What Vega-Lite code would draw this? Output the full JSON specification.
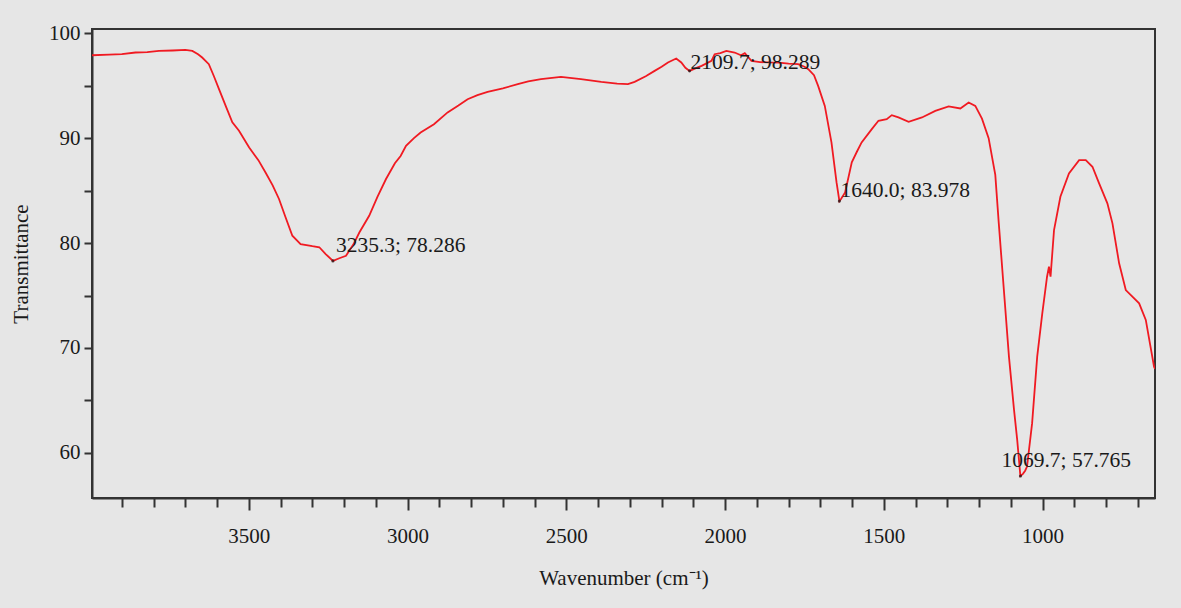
{
  "$schema": "https://vega.github.io/schema/vega-lite/v6.json",
  "autosize": {"type": "none"},
  "padding": {"left": 92, "top": 29, "right": 26, "bottom": 110},
  "width": 1063,
  "height": 469,
  "background": "#e6e6e6",
  "config": {
    "view": {"stroke": "#333333", "strokeWidth": 2, "fill": "#e6e6e6"},
    "font": "Liberation Serif"
  },
  "datasets": {
    "spectrum": [
      {"wn": 3994, "T": 97.9}, {"wn": 3940, "T": 97.95}, {"wn": 3900, "T": 98.0}, {"wn": 3857, "T": 98.16},
      {"wn": 3820, "T": 98.2}, {"wn": 3783, "T": 98.31}, {"wn": 3740, "T": 98.35}, {"wn": 3700, "T": 98.41},
      {"wn": 3678, "T": 98.31}, {"wn": 3660, "T": 98.0}, {"wn": 3647, "T": 97.68}, {"wn": 3626, "T": 97.05},
      {"wn": 3610, "T": 95.9}, {"wn": 3594, "T": 94.67}, {"wn": 3572, "T": 93.0}, {"wn": 3552, "T": 91.5},
      {"wn": 3531, "T": 90.7}, {"wn": 3499, "T": 89.1}, {"wn": 3470, "T": 87.9}, {"wn": 3447, "T": 86.7},
      {"wn": 3425, "T": 85.5}, {"wn": 3405, "T": 84.2}, {"wn": 3385, "T": 82.5}, {"wn": 3363, "T": 80.7},
      {"wn": 3337, "T": 79.9}, {"wn": 3300, "T": 79.7}, {"wn": 3278, "T": 79.6}, {"wn": 3258, "T": 78.95},
      {"wn": 3235, "T": 78.3}, {"wn": 3215, "T": 78.55}, {"wn": 3194, "T": 78.79}, {"wn": 3170, "T": 79.9},
      {"wn": 3152, "T": 81.0}, {"wn": 3121, "T": 82.6}, {"wn": 3095, "T": 84.4}, {"wn": 3068, "T": 86.1},
      {"wn": 3040, "T": 87.6}, {"wn": 3022, "T": 88.3}, {"wn": 3005, "T": 89.27}, {"wn": 2980, "T": 90.0},
      {"wn": 2959, "T": 90.54}, {"wn": 2917, "T": 91.33}, {"wn": 2874, "T": 92.45}, {"wn": 2840, "T": 93.1},
      {"wn": 2811, "T": 93.71}, {"wn": 2780, "T": 94.1}, {"wn": 2748, "T": 94.41}, {"wn": 2700, "T": 94.75},
      {"wn": 2653, "T": 95.14}, {"wn": 2620, "T": 95.4}, {"wn": 2580, "T": 95.62}, {"wn": 2517, "T": 95.84},
      {"wn": 2454, "T": 95.62}, {"wn": 2390, "T": 95.36}, {"wn": 2340, "T": 95.2}, {"wn": 2306, "T": 95.14},
      {"wn": 2285, "T": 95.36}, {"wn": 2250, "T": 95.9}, {"wn": 2222, "T": 96.41}, {"wn": 2200, "T": 96.8},
      {"wn": 2180, "T": 97.21}, {"wn": 2154, "T": 97.59}, {"wn": 2138, "T": 97.21}, {"wn": 2125, "T": 96.7},
      {"wn": 2112, "T": 96.41}, {"wn": 2090, "T": 96.7}, {"wn": 2074, "T": 96.89}, {"wn": 2043, "T": 97.36},
      {"wn": 2033, "T": 98.0}, {"wn": 2015, "T": 98.1}, {"wn": 1996, "T": 98.31}, {"wn": 1970, "T": 98.16},
      {"wn": 1950, "T": 97.9}, {"wn": 1938, "T": 98.1}, {"wn": 1917, "T": 97.36}, {"wn": 1890, "T": 97.25},
      {"wn": 1864, "T": 97.21}, {"wn": 1830, "T": 97.2}, {"wn": 1800, "T": 97.1}, {"wn": 1770, "T": 97.05},
      {"wn": 1750, "T": 96.8}, {"wn": 1738, "T": 96.57}, {"wn": 1720, "T": 96.0}, {"wn": 1707, "T": 94.98},
      {"wn": 1686, "T": 93.07}, {"wn": 1665, "T": 89.59}, {"wn": 1649, "T": 85.78}, {"wn": 1640, "T": 84.0},
      {"wn": 1635, "T": 84.19}, {"wn": 1622, "T": 84.83}, {"wn": 1601, "T": 87.7}, {"wn": 1585, "T": 88.7},
      {"wn": 1570, "T": 89.59}, {"wn": 1538, "T": 90.86}, {"wn": 1517, "T": 91.65}, {"wn": 1491, "T": 91.81},
      {"wn": 1475, "T": 92.19}, {"wn": 1454, "T": 91.97}, {"wn": 1422, "T": 91.55}, {"wn": 1380, "T": 91.97},
      {"wn": 1338, "T": 92.6}, {"wn": 1296, "T": 93.02}, {"wn": 1259, "T": 92.83}, {"wn": 1233, "T": 93.4},
      {"wn": 1212, "T": 93.07}, {"wn": 1191, "T": 91.85}, {"wn": 1170, "T": 90.0}, {"wn": 1149, "T": 86.5},
      {"wn": 1138, "T": 81.88}, {"wn": 1122, "T": 75.52}, {"wn": 1106, "T": 69.17}, {"wn": 1090, "T": 64.1},
      {"wn": 1080, "T": 61.24}, {"wn": 1070, "T": 57.8}, {"wn": 1062, "T": 58.0}, {"wn": 1055, "T": 58.3},
      {"wn": 1049, "T": 58.7}, {"wn": 1033, "T": 62.83}, {"wn": 1017, "T": 69.17}, {"wn": 1001, "T": 73.3},
      {"wn": 986, "T": 76.79}, {"wn": 980, "T": 77.74}, {"wn": 975, "T": 76.79}, {"wn": 964, "T": 81.24},
      {"wn": 944, "T": 84.41}, {"wn": 917, "T": 86.64}, {"wn": 885, "T": 87.9}, {"wn": 864, "T": 87.9},
      {"wn": 843, "T": 87.27}, {"wn": 822, "T": 85.68}, {"wn": 796, "T": 83.78}, {"wn": 780, "T": 81.88},
      {"wn": 759, "T": 78.07}, {"wn": 738, "T": 75.52}, {"wn": 696, "T": 74.25}, {"wn": 675, "T": 72.67},
      {"wn": 649, "T": 68.22}, {"wn": 646, "T": 68.0}
    ],
    "peaks": [
      {"wn": 3235.3, "T": 78.3, "label": "3235.3; 78.286"},
      {"wn": 2112, "T": 96.41, "label": "2109.7; 98.289"},
      {"wn": 1640.0, "T": 84.0, "label": "1640.0; 83.978"},
      {"wn": 1069.7, "T": 57.8, "label": "1069.7; 57.765"}
    ]
  },
  "encoding": {
    "x": {
      "field": "wn", "type": "quantitative",
      "scale": {"domain": [3994, 646], "nice": false, "zero": false},
      "axis": {
        "values": [3900, 3800, 3700, 3600, 3500, 3400, 3300, 3200, 3100, 3000, 2900, 2800, 2700, 2600, 2500, 2400, 2300, 2200, 2100, 2000, 1900, 1800, 1700, 1600, 1500, 1400, 1300, 1200, 1100, 1000, 900, 800, 700],
        "format": "d",
        "labelExpr": "datum.value % 500 === 0 ? datum.label : ''",
        "tickSize": {"condition": {"test": "datum.value % 500 === 0", "value": 12}, "value": 9},
        "grid": false,
        "domainColor": "#333333", "domainWidth": 2,
        "tickColor": "#333333", "tickWidth": 2,
        "labelFont": "Liberation Serif", "labelFontSize": 21, "labelColor": "#1a1a1a",
        "labelPadding": 15,
        "title": "Wavenumber (cm⁻¹)",
        "titleFont": "Liberation Serif", "titleFontSize": 21, "titleFontWeight": "normal", "titleColor": "#1a1a1a",
        "titlePadding": 21
      }
    },
    "y": {
      "field": "T", "type": "quantitative",
      "scale": {"domain": [55.7, 100.4], "nice": false, "zero": false},
      "axis": {
        "values": [60, 65, 70, 75, 80, 85, 90, 95, 100],
        "labelExpr": "datum.value % 10 === 0 ? datum.label : ''",
        "tickSize": 8,
        "grid": false,
        "domainColor": "#333333", "domainWidth": 2,
        "tickColor": "#333333", "tickWidth": 2,
        "labelFont": "Liberation Serif", "labelFontSize": 21, "labelColor": "#1a1a1a",
        "labelPadding": 4,
        "title": "Transmittance",
        "titleFont": "Liberation Serif", "titleFontSize": 21, "titleFontWeight": "normal", "titleColor": "#1a1a1a",
        "titlePadding": 17
      }
    }
  },
  "layer": [
    {
      "data": {"name": "spectrum"},
      "mark": {"type": "line", "color": "#f01a22", "strokeWidth": 1.8, "clip": true}
    },
    {
      "data": {"name": "peaks"},
      "mark": {"type": "point", "filled": true, "color": "#111111", "size": 10}
    },
    {
      "data": {"name": "peaks"},
      "transform": [{"filter": "datum.label === '3235.3; 78.286'"}],
      "mark": {"type": "text", "align": "left", "baseline": "alphabetic", "dx": 3, "dy": -9, "font": "Liberation Serif", "fontSize": 21.5, "color": "#1a1a1a"},
      "encoding": {"text": {"field": "label"}}
    },
    {
      "data": {"name": "peaks"},
      "transform": [{"filter": "datum.label === '2109.7; 98.289'"}],
      "mark": {"type": "text", "align": "left", "baseline": "alphabetic", "dx": 1, "dy": -2, "font": "Liberation Serif", "fontSize": 21.5, "color": "#1a1a1a"},
      "encoding": {"text": {"field": "label"}}
    },
    {
      "data": {"name": "peaks"},
      "transform": [{"filter": "datum.label === '1640.0; 83.978'"}],
      "mark": {"type": "text", "align": "left", "baseline": "alphabetic", "dx": 1, "dy": -4, "font": "Liberation Serif", "fontSize": 21.5, "color": "#1a1a1a"},
      "encoding": {"text": {"field": "label"}}
    },
    {
      "data": {"name": "peaks"},
      "transform": [{"filter": "datum.label === '1069.7; 57.765'"}],
      "mark": {"type": "text", "align": "left", "baseline": "alphabetic", "dx": -19, "dy": -9, "font": "Liberation Serif", "fontSize": 21.5, "color": "#1a1a1a"},
      "encoding": {"text": {"field": "label"}}
    }
  ]
}
